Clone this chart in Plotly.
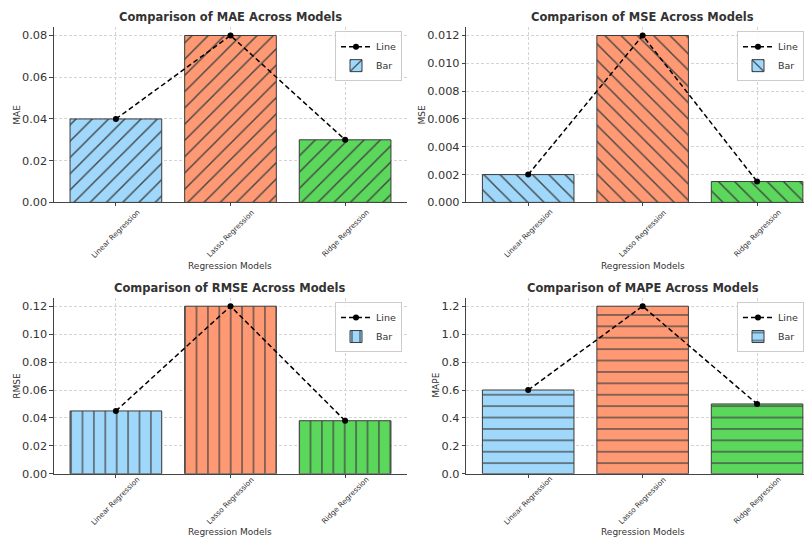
import plotly.graph_objects as go

# ---------------- data ----------------
models = ["Linear Regression", "Lasso Regression", "Ridge Regression"]
mae_values = [0.04, 0.08, 0.03]
mse_values = [0.002, 0.012, 0.0015]
rmse_values = [0.045, 0.12, 0.038]
mape_values = [0.6, 1.2, 0.5]
metric_names = ["MAE", "MSE", "RMSE", "MAPE"]
x_title = "Regression Models"

# ---------------- styles ----------------
OFF = 8                          # default body margin of the page
PAGE_H = 550                     # effective page height before the capture is fitted to 542
W, H = 812 - 2 * OFF, PAGE_H - 2 * OFF
YS = PAGE_H / 542
FONT = "DejaVu Sans"
TXT = "#333333"
bar_colors = ["#9fd8fb", "#ff9973", "#5bd75b"]
hatches = ["/", "\\", "|", "-"]
hatch_size = [11.5, 11.5, 11.4, 11.4]
hatch_solid = [0.12, 0.12, 0.11, 0.11]
y_ranges = [[0, 0.084], [0, 0.0126], [0, 0.126], [0, 1.26]]
y_dticks = [0.02, 0.002, 0.02, 0.2]
y_formats = [".2f", ".3f", ".2f", ".1f"]


def px(x):
    return (x - OFF) / W


def py(y):
    return 1 - (y * YS - OFF) / H


# axes boxes in window pixels: (left, right, top, bottom)
RIGHT_EDGE = 812 - OFF
boxes = [(54, 407, 27, 202), (466.4, RIGHT_EDGE, 27, 202),
         (54, 407, 297.3, 473), (466.4, RIGHT_EDGE, 297.3, 473)]
x_ranges = [[-0.54, 2.54], [-0.54, 2.41], [-0.54, 2.54], [-0.54, 2.41]]
title_pos = [(230.5, 17), (642.5, 17), (230.5, 287.3), (642.5, 287.3)]
xlabel_pos = [(230.5, 266), (642.5, 266), (230.5, 531), (642.5, 531)]
ticklabel_y = [233, 233, 500, 500]
ylabel_pos = [(17, 114.5), (421.7, 114.5), (17, 385), (436, 385)]
legend_pos = [(402, 31), (RIGHT_EDGE, 31), (402, 301.5), (RIGHT_EDGE, 301.5)]

all_values = [mae_values, mse_values, rmse_values, mape_values]

fig = go.Figure()
annotations = []
layout = {}

for i, (name, vals) in enumerate(zip(metric_names, all_values)):
    sfx = "" if i == 0 else str(i + 1)
    xa, ya = "x" + sfx, "y" + sfx
    leg = "legend" + sfx
    fig.add_trace(go.Bar(
        x=models, y=vals, name="Bar", xaxis=xa, yaxis=ya, legend=leg,
        width=0.8, legendrank=2,
        marker=dict(color=bar_colors, line=dict(color="#3a3a3a", width=1),
                    pattern=dict(shape=hatches[i], size=hatch_size[i],
                                 solidity=hatch_solid[i], fgcolor="#1f1f1f",
                                 fgopacity=1)),
    ))
    fig.add_trace(go.Scatter(
        x=models, y=vals, name="Line", xaxis=xa, yaxis=ya, legend=leg,
        mode="lines+markers", legendrank=1,
        line=dict(color="black", width=1.5, dash="5px,3px"),
        marker=dict(color="black", size=6),
    ))
    l, r, t, b = boxes[i]
    layout["xaxis" + sfx] = dict(
        domain=[px(l), min(px(r), 1.0)], anchor=ya, range=x_ranges[i],
        type="category", showline=True, linecolor="#444444", linewidth=1.2,
        showgrid=True, gridcolor="#d4d4d4", griddash="3px,2px", gridwidth=0.7,
        ticks="outside", ticklen=3, tickcolor="#444444",
        showticklabels=False, zeroline=False,
    )
    layout["yaxis" + sfx] = dict(
        domain=[py(b), py(t)], anchor=xa, range=y_ranges[i],
        dtick=y_dticks[i], tick0=0, tickformat=y_formats[i],
        showline=True, linecolor="#444444", linewidth=1.2,
        showgrid=True, gridcolor="#d4d4d4", griddash="3px,2px", gridwidth=0.7,
        ticks="outside", ticklen=3.5, tickcolor="#444444",
        tickfont=dict(family=FONT, size=11.3, color=TXT), zeroline=False,
    )
    lx, ly = legend_pos[i]
    layout[leg] = dict(
        x=min(px(lx), 1.0), y=py(ly), xanchor="right", yanchor="top",
        bgcolor="rgba(255,255,255,0.9)", bordercolor="#cccccc", borderwidth=1,
        font=dict(family=FONT, size=9.5, color=TXT), itemwidth=30,
        tracegroupgap=0,
    )
    # rotated category labels, centred under each tick
    for m in models:
        annotations.append(dict(
            text=m, x=m, xref=xa, y=py(ticklabel_y[i]), yref="paper",
            showarrow=False, xanchor="center", yanchor="middle", textangle=-45,
            font=dict(family=FONT, size=7.3, color=TXT)))
    tx, ty = title_pos[i]
    annotations.append(dict(
        text=f"<b>Comparison of {name} Across Models</b>", x=px(tx), y=py(ty),
        xref="paper", yref="paper", showarrow=False, xanchor="center", yanchor="middle",
        font=dict(family=FONT, size=11.5, color=TXT)))
    ax_, ay_ = xlabel_pos[i]
    annotations.append(dict(
        text=x_title, x=px(ax_), y=py(ay_), xref="paper", yref="paper",
        showarrow=False, xanchor="center", yanchor="middle",
        font=dict(family=FONT, size=9, color=TXT)))
    yx, yy = ylabel_pos[i]
    annotations.append(dict(
        text=name, x=px(yx), y=py(yy), xref="paper", yref="paper",
        showarrow=False, xanchor="center", yanchor="middle", textangle=-90,
        font=dict(family=FONT, size=9, color=TXT)))

fig.update_layout(
    width=W, height=H, margin=dict(l=0, r=0, t=0, b=0),
    paper_bgcolor="white", plot_bgcolor="white",
    showlegend=True, annotations=annotations, **layout,
)

fig.write_html("out.html")
